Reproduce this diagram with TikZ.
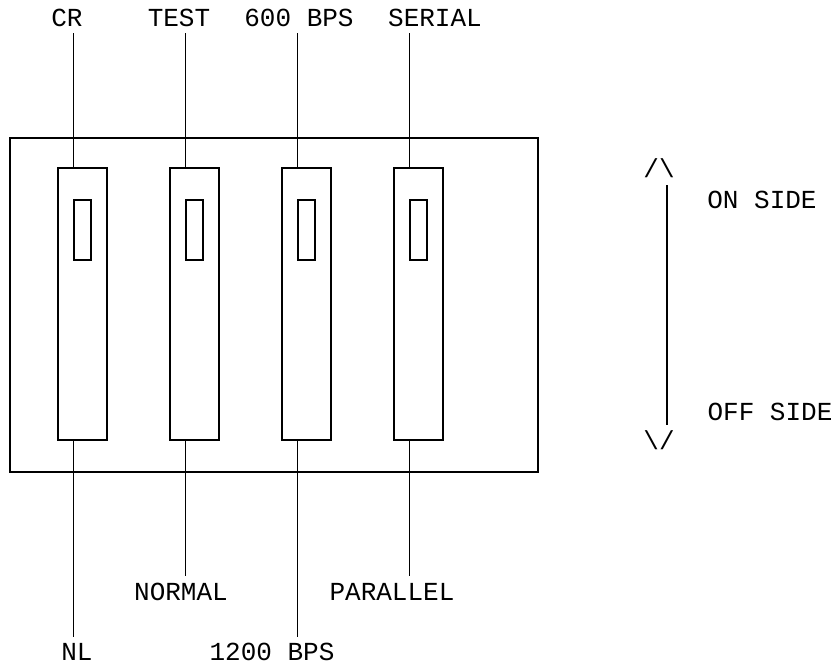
\documentclass[tikz,border=0pt]{standalone}
\usepackage{fontspec}
\setmonofont{Liberation Mono}
\usetikzlibrary{positioning}

\begin{document}
\begin{tikzpicture}[
  x=1pt, y=-1pt,
  font=\ttfamily\fontsize{26}{30}\selectfont,
  wire/.style={draw=black, line width=1.2pt},
  switchbody/.style={draw=black, line width=1.2pt, minimum width=49pt, minimum height=272pt, inner sep=0pt},
  slider/.style={draw=black, line width=1.2pt, minimum width=17pt, minimum height=60pt, inner sep=0pt},
  legend/.style={inner sep=0pt}
]
  \useasboundingbox (0,0) rectangle (838,665);

  % The DIP switch block with its four rockers.
  \node[draw=black, line width=1.2pt, minimum width=528pt, minimum height=334pt, inner sep=0pt] (panel) at (274,305) {};
  \foreach \i/\tl/\bl/\blen in {1/73/637/637, 2/186/576/576, 3/298/637/637, 4/410/576/576}
  {
    \node[switchbody] (sw\i) at (82.5+112*\i-112,304) {};
    \node[slider] (sl\i) at (82.5+112*\i-112,230) {};
    \coordinate (top\i) at (sl\i.west |- 0,33);
    \coordinate (bot\i) at (sl\i.west |- 0,\blen);
    \draw[wire] (top\i) -- (top\i |- sw\i.north);
    \draw[wire] (top\i |- sw\i.south) -- (bot\i);
  }

  % Top labels (ON position).
  \node[legend] (cr) at (67,18) {CR};
  \node[legend] (test) at (179,18) {TEST};
  \node[legend] (bps600) at (299,18) {600 BPS};
  \node[legend] (serial) at (435,18) {SERIAL};

  % Bottom labels (OFF position).
  \node[legend] (nl) at (77,652) {NL};
  \node[legend] (normal) at (181,592) {NORMAL};
  \node[legend] (bps1200) at (272,652) {1200 BPS};
  \node[legend] (parallel) at (392,592) {PARALLEL};

  % Side indicator.
  \node[legend] (up) at (659,168) {/\textbackslash};
  \node[legend] (down) at (659,440) {\textbackslash/};
  \coordinate (upend) at (667,185);
  \coordinate (downend) at (667,425);
  \draw[wire] (upend) -- (downend);
  \node[legend] (onside) at (762,200) {ON SIDE};
  \node[legend] (offside) at (770,412) {OFF SIDE};
\end{tikzpicture}
\end{document}
